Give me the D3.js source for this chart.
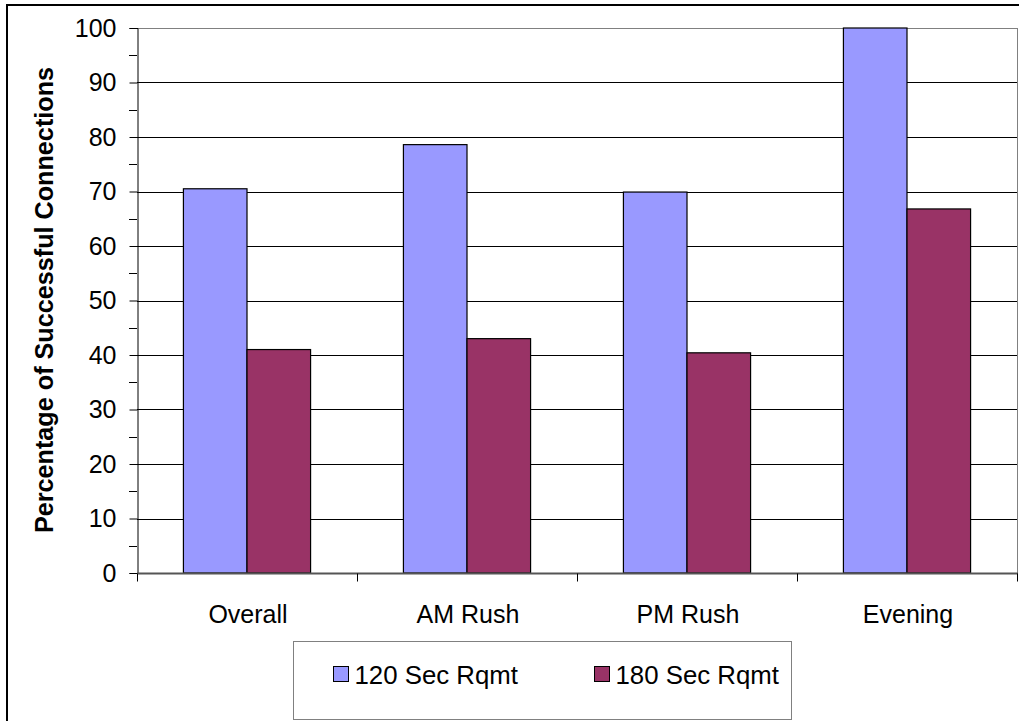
<!DOCTYPE html>
<html>
<head>
<meta charset="utf-8">
<script src="https://cdn.jsdelivr.net/npm/d3@7"></script>
<style>
  body { margin: 0; background: #fff; }
  svg text { font-family: Arial, "Liberation Sans", sans-serif; fill: #000; }
</style>
</head>
<body>
<svg id="chart" width="1019" height="721"></svg>
<script>
// data
var categories = ["Overall", "AM Rush", "PM Rush", "Evening"];
var seriesNames = ["120 Sec Rqmt", "180 Sec Rqmt"];
var values120 = [70.5, 78.6, 69.9, 100];
var values180 = [41.0, 43.0, 40.4, 66.8];
var yTicks = [0, 10, 20, 30, 40, 50, 60, 70, 80, 90, 100];
var colors = ["#9999FF", "#993366"];

var svg = d3.select("#chart");
var plot = {left: 137, right: 1017, top: 28, bottom: 573};

// outer frame (right and bottom run off the picture)
svg.append("path")
    .attr("d", "M7,721 V5 H1019")
    .attr("fill", "none")
    .attr("stroke", "#000")
    .attr("stroke-width", 2);

var x0 = d3.scaleBand()
    .domain(categories)
    .range([plot.left, plot.right])
    .padding(0);

var x1 = d3.scaleBand()
    .domain(seriesNames)
    .range([x0.bandwidth() * 0.211, x0.bandwidth() * 0.789]);

var y = d3.scaleLinear()
    .domain([0, 100])
    .range([plot.bottom, plot.top]);

// grid lines
svg.append("g")
    .selectAll("line")
    .data(yTicks.filter(function(d) { return d > 0; }))
    .join("line")
    .attr("x1", plot.left)
    .attr("x2", plot.right)
    .attr("y1", function(d) { return Math.round(y(d)) + 0.5; })
    .attr("y2", function(d) { return Math.round(y(d)) + 0.5; })
    .attr("stroke", function(d) { return d === 100 ? "#808080" : "#000"; })
    .attr("stroke-width", 1);

// right border of plot area
svg.append("line")
    .attr("x1", plot.right + 0.5).attr("x2", plot.right + 0.5)
    .attr("y1", plot.top).attr("y2", plot.bottom)
    .attr("stroke", "#808080");

// bars
var rows = categories.map(function(c, i) {
    return {cat: c, vals: [values120[i], values180[i]]};
});

var groups = svg.append("g")
    .selectAll("g")
    .data(rows)
    .join("g")
    .attr("transform", function(d) { return "translate(" + x0(d.cat) + ",0)"; });

groups.selectAll("rect")
    .data(function(d) {
        return d.vals.map(function(v, j) { return {name: seriesNames[j], value: v, idx: j}; });
    })
    .join("rect")
    .attr("x", function(d) { return x1(d.name); })
    .attr("width", x1.bandwidth())
    .attr("y", function(d) { return y(d.value); })
    .attr("height", function(d) { return y(0) - y(d.value); })
    .attr("fill", function(d) { return colors[d.idx]; })
    .attr("stroke", "#000")
    .attr("stroke-width", 1.2);

// y axis
var yAxis = d3.axisLeft(y)
    .tickValues(yTicks)
    .tickSize(8)
    .tickPadding(13);

var yG = svg.append("g")
    .attr("transform", "translate(" + (plot.left + 0.5) + ",0)")
    .call(yAxis);
yG.select(".domain").attr("stroke", "#000");
yG.selectAll(".tick line").attr("stroke", "#000");
yG.selectAll("text")
    .style("font-size", "25px")
    .attr("fill", "#000");

// minor ticks at 5s
svg.append("g")
    .selectAll("line")
    .data(d3.range(5, 100, 10))
    .join("line")
    .attr("x1", plot.left - 8)
    .attr("x2", plot.left)
    .attr("y1", function(d) { return Math.round(y(d)) + 0.5; })
    .attr("y2", function(d) { return Math.round(y(d)) + 0.5; })
    .attr("stroke", "#000");

// x axis
var xG = svg.append("g")
    .attr("transform", "translate(0," + (plot.bottom + 0.5) + ")");

xG.append("line")
    .attr("x1", plot.left).attr("x2", plot.right + 1)
    .attr("stroke", "#555")
    .attr("stroke-width", 2);

xG.selectAll(".xtick")
    .data(categories.concat(["end"]))
    .join("line")
    .attr("class", "xtick")
    .attr("x1", function(d, i) { return Math.round(plot.left + i * x0.bandwidth()) + 0.5; })
    .attr("x2", function(d, i) { return Math.round(plot.left + i * x0.bandwidth()) + 0.5; })
    .attr("y1", 0)
    .attr("y2", 8)
    .attr("stroke", "#000");

xG.selectAll(".xlab")
    .data(categories)
    .join("text")
    .attr("class", "xlab")
    .attr("x", function(d) { return x0(d) + x0.bandwidth() / 2 + 1; })
    .attr("y", 49)
    .attr("text-anchor", "middle")
    .style("font-size", "25px")
    .text(function(d) { return d; });

// y axis title
svg.append("text")
    .attr("transform", "translate(53,300) rotate(-90)")
    .attr("text-anchor", "middle")
    .style("font-size", "25.2px")
    .style("font-weight", "bold")
    .text("Percentage of Successful Connections");

// legend
var legend = svg.append("g");
legend.append("rect")
    .attr("x", 293.5).attr("y", 641.5)
    .attr("width", 498).attr("height", 78)
    .attr("fill", "#fff")
    .attr("stroke", "#808080");

var legendX = [333.5, 594.5];
var items = legend.selectAll("g.item")
    .data(seriesNames)
    .join("g")
    .attr("class", "item")
    .attr("transform", function(d, i) { return "translate(" + legendX[i] + ",666.5)"; });

items.append("rect")
    .attr("width", 15).attr("height", 15)
    .attr("fill", function(d, i) { return colors[i]; })
    .attr("stroke", "#000");

items.append("text")
    .attr("x", 21)
    .attr("y", 17)
    .style("font-size", "25.8px")
    .text(function(d) { return d; });
</script>
</body>
</html>
